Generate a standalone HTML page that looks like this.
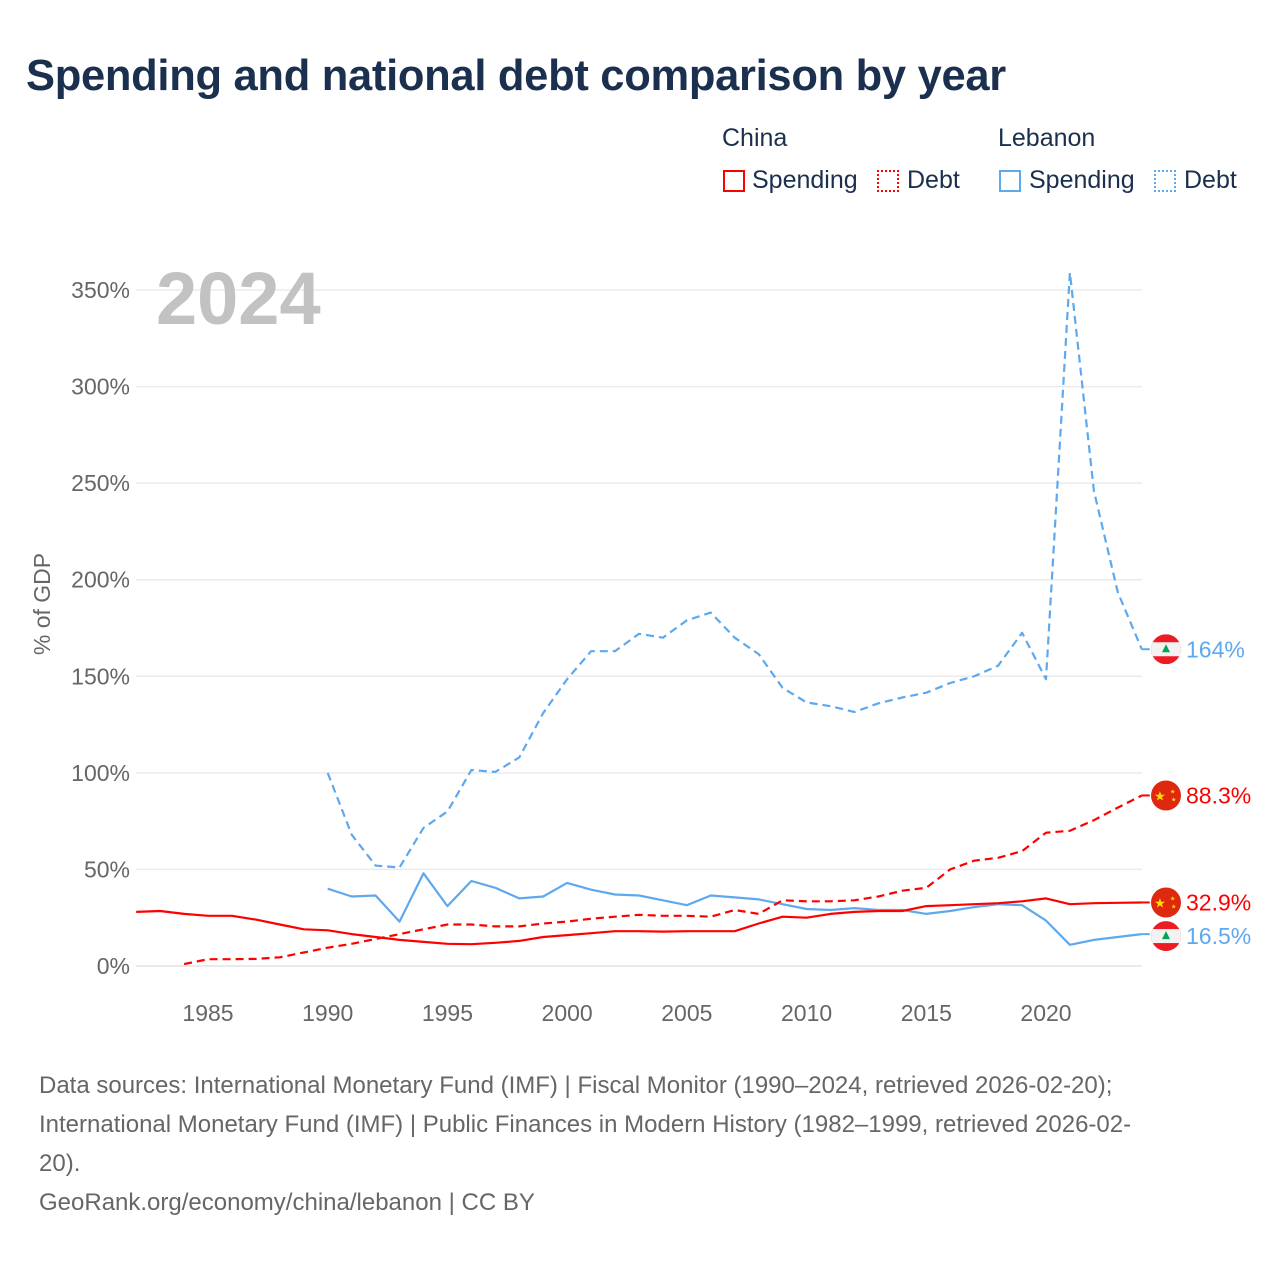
<!DOCTYPE html>
<html><head><meta charset="utf-8"><style>
body{margin:0;background:#fff;font-family:"Liberation Sans",sans-serif}
#wrap{position:relative;width:1280px;height:1280px}
h1{position:absolute;left:26px;top:52px;margin:0;font-size:43.5px;font-weight:bold;color:#1b2f4e;letter-spacing:-0.3px}
.lg{position:absolute;font-size:25px;color:#1b2f4e}
.sw{position:absolute;width:22px;height:22px;box-sizing:border-box}
.foot{position:absolute;left:39px;top:1066px;font-size:24px;color:#666;line-height:39px;width:1200px}
</style></head><body>
<div id="wrap">
<h1>Spending and national debt comparison by year</h1>
<div class="lg" style="left:722px;top:124px">China</div>
<div class="lg" style="left:998px;top:124px">Lebanon</div>
<div class="sw" style="left:723px;top:170px;border:2px solid #f00"></div>
<div class="lg" style="left:752px;top:166px">Spending</div>
<div class="sw" style="left:877px;top:170px;border:2px dotted #f00"></div>
<div class="lg" style="left:907px;top:166px">Debt</div>
<div class="sw" style="left:999px;top:170px;border:2px solid #5ea8ee"></div>
<div class="lg" style="left:1029px;top:166px">Spending</div>
<div class="sw" style="left:1154px;top:170px;border:2px dotted #5ea8ee"></div>
<div class="lg" style="left:1184px;top:166px">Debt</div>
<svg id="chart" width="1280" height="1280" style="position:absolute;left:0;top:0"></svg>
<div class="foot">Data sources: International Monetary Fund (IMF) | Fiscal Monitor (1990–2024, retrieved 2026-02-20);<br>International Monetary Fund (IMF) | Public Finances in Modern History (1982–1999, retrieved 2026-02-<br>20).<br>GeoRank.org/economy/china/lebanon | CC BY</div>
</div>
<script>
const yTicks=[0,50,100,150,200,250,300,350];
const xTicks=[1985,1990,1995,2000,2005,2010,2015,2020];
const chinaSpendStart=1982;
const chinaSpending=[28,28.5,27,26,26,24,21.5,19,18.5,16.5,15,13.5,12.5,11.5,11.3,12,13,15,16,17,18,18,17.8,18,18,18,22,25.5,25,27,28,28.5,28.5,31,31.5,32,32.5,33.5,35,32,32.5,32.7,32.9];
const chinaDebtStart=1984;
const chinaDebt=[1,3.5,3.5,3.7,4.5,7,9.5,11.5,14,16.5,19,21.5,21.5,20.5,20.5,22,23,24.5,25.5,26.5,26,26,25.5,29,27,34,33.5,33.5,34,36,39,40.5,50,54.5,56,59.5,69,70,75.5,82,88.3];
const lebStart=1990;
const lebSpending=[40,36,36.5,23,48,31,44,40.5,35,36,43,39.5,37,36.5,34,31.5,36.5,35.5,34.5,32,29.5,29,30,29,29,27,28.5,30.5,32,31.5,23.5,11,13.5,15,16.5];
const lebDebt=[100,68,52,51,71.5,80,101.5,100.5,108,131,148.5,163,163,172,170,179,183,170,161.5,144,136.5,134.5,131.5,136,139,141.5,146.5,150,155.5,172.5,148.5,359,246,193.5,164];
const endLabels=["164%","88.3%","32.9%","16.5%"];
const NS="http://www.w3.org/2000/svg";
const svg=document.getElementById('chart');
const X=y=>208+(y-1985)*23.943;
const Y=v=>966-v*1.9314;
function mk(t,a,txt){const e=document.createElementNS(NS,t);for(const k in a)e.setAttribute(k,a[k]);if(txt!=null)e.textContent=txt;svg.appendChild(e);return e;}
yTicks.forEach(v=>{
 const l=mk('line',{x1:136,x2:1142,y1:Y(v),y2:Y(v),stroke:v===0?'#e3e3e3':'#ebebeb','stroke-width':1.5});
 
 
 const t=mk('text',{x:130,y:Y(v)+8,'text-anchor':'end','font-size':23,fill:'#666','font-family':'Liberation Sans'},v+'%');
 
 
});
xTicks.forEach(y=>{
 const t=mk('text',{x:X(y),y:1021,'text-anchor':'middle','font-size':23,fill:'#666','font-family':'Liberation Sans'},y);
 
 
});
const yt=mk('text',{x:0,y:0,transform:'translate(50,604) rotate(-90)','text-anchor':'middle','font-size':23,fill:'#666','font-family':'Liberation Sans'},'% of GDP');


const yr=mk('text',{x:156,y:324,'font-size':74,'font-weight':'bold',fill:'#c2c2c2','font-family':'Liberation Sans'},'2024');


function line(arr,start,color,dash,name){
 const d=arr.map((v,i)=>(i?'L':'M')+X(start+i).toFixed(1)+','+Y(v).toFixed(1)).join(' ');
 const p=mk('path',{d:d,fill:'none',stroke:color,'stroke-width':2.2,'stroke-dasharray':dash||'none','stroke-linejoin':'round'});
 
 
 const last=arr[arr.length-1];
 mk('line',{x1:X(start+arr.length-1),x2:X(start+arr.length-1)+8,y1:Y(last),y2:Y(last),stroke:color,'stroke-width':2});
}
line(lebDebt,lebStart,'#5ea8ee','8,5','lebanon-debt-line');
line(lebSpending,lebStart,'#5ea8ee',null,'lebanon-spending-line');
line(chinaDebt,chinaDebtStart,'#f00','8,5','china-debt-line');
line(chinaSpending,chinaSpendStart,'#f00',null,'china-spending-line');
function flag(v,china,lbl,color,name){
 const cy=Y(v),cx=1166;
 const g=document.createElementNS(NS,'g');svg.appendChild(g);
 
 
 if(china){
  g.innerHTML=`<circle cx="${cx}" cy="${cy}" r="15" fill="#de2910"/><text x="${cx-6}" y="${cy+5}" font-size="13" fill="#ffde00" text-anchor="middle">★</text><text x="${cx+4}" y="${cy-2}" font-size="6" fill="#ffde00">★</text><text x="${cx+5}" y="${cy+6}" font-size="6" fill="#ffde00">★</text>`;
 }else{
  g.innerHTML=`<clipPath id="c${name}"><circle cx="${cx}" cy="${cy}" r="15"/></clipPath><g clip-path="url(#c${name})"><rect x="${cx-15}" y="${cy-15}" width="30" height="30" fill="#ed1c24"/><rect x="${cx-15}" y="${cy-7}" width="30" height="14" fill="#f2f2f2"/><path d="M${cx},${cy-5} l4,8 h-8z" fill="#00a651"/></g>`;
 }
 const t=mk('text',{x:1186,y:cy+8,'font-size':23,fill:color,'font-family':'Liberation Sans'},lbl);
 
 
}
flag(lebDebt[lebDebt.length-1],false,endLabels[0],'#5ea8ee','lebanon-debt-end');
flag(chinaDebt[chinaDebt.length-1],true,endLabels[1],'#f00','china-debt-end');
flag(chinaSpending[chinaSpending.length-1],true,endLabels[2],'#f00','china-spending-end');
flag(lebSpending[lebSpending.length-1]-1,false,endLabels[3],'#5ea8ee','lebanon-spending-end');
</script>
</body></html>
